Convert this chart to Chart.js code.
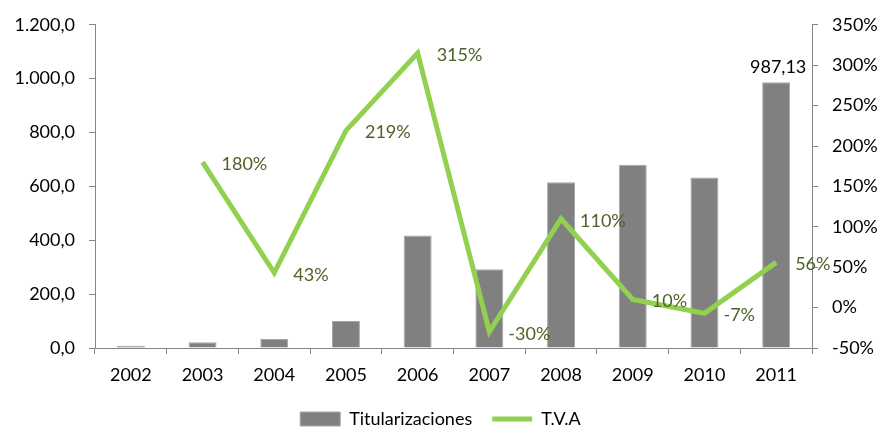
<!DOCTYPE html>
<html>
<head>
<meta charset="utf-8">
<script src="https://cdn.jsdelivr.net/npm/chart.js@4.4.1/dist/chart.umd.min.js"></script>
<style>
    html, body { margin: 0; padding: 0; background: #fff; }
    #wrap { width: 881px; height: 428px; }
</style>
</head>
<body>
<div id="wrap"><canvas id="chart"></canvas></div>
<script>
const years = ['2002', '2003', '2004', '2005', '2006', '2007', '2008', '2009', '2010', '2011'];
const titularizaciones = [8, 21, 33, 100, 418, 292, 615, 680, 633, 987.13];
const tva = [null, 180, 43, 219, 315, -30, 110, 10, -7, 56];
const barLabels = [null, null, null, null, null, null, null, null, null, '987,13'];
const leftTicks = [0, 200, 400, 600, 800, 1000, 1200];
const rightTicks = [-50, 0, 50, 100, 150, 200, 250, 300, 350];

const FONT = 'Lato, "Open Sans", sans-serif';

function formatMiles(v) {
    const s = String(Math.round(v));
    return s.replace(/\B(?=(\d{3})+(?!\d))/g, '.') + ',0';
}

// draws the value labels next to the points / above the bars
const valueLabels = {
    id: 'valueLabels',
    afterDatasetsDraw(chart) {
        const ctx = chart.ctx;
        ctx.save();
        ctx.font = '18px ' + FONT;
        const barMeta = chart.getDatasetMeta(0);
        ctx.fillStyle = '#000000';
        ctx.textAlign = 'center';
        ctx.textBaseline = 'bottom';
        barMeta.data.forEach((el, i) => {
            if (barLabels[i]) {
                ctx.fillText(barLabels[i], el.x + 2, el.y - 6);
            }
        });
        const lineMeta = chart.getDatasetMeta(1);
        ctx.fillStyle = '#4f6228';
        ctx.textAlign = 'left';
        ctx.textBaseline = 'middle';
        lineMeta.data.forEach((el, i) => {
            if (tva[i] !== null) {
                ctx.fillText(tva[i] + '%', el.x + 19, el.y + 2);
            }
        });
        ctx.restore();
    }
};

new Chart(document.getElementById('chart'), {
    type: 'bar',
    plugins: [valueLabels],
    data: {
        labels: years,
        datasets: [{
            type: 'bar',
            label: 'Titularizaciones',
            data: titularizaciones,
            backgroundColor: '#808080',
            borderColor: '#a6a6a6',
            borderWidth: 1,
            borderSkipped: 'bottom',
            categoryPercentage: 1,
            barPercentage: 0.39,
            yAxisID: 'y',
            pointStyle: 'rect',
            order: 2
        }, {
            type: 'line',
            label: 'T.V.A',
            data: tva,
            borderColor: '#92d050',
            backgroundColor: '#92d050',
            borderWidth: 5,
            tension: 0,
            pointRadius: 0,
            pointHoverRadius: 0,
            spanGaps: false,
            yAxisID: 'y1',
            pointStyle: 'line',
            order: 1
        }]
    },
    options: {
        responsive: true,
        maintainAspectRatio: false,
        animation: false,
        layout: {
            padding: { top: 19, left: 0, right: 0, bottom: -10 }
        },
        plugins: {
            tooltip: { enabled: false },
            legend: {
                position: 'bottom',
                labels: {
                    usePointStyle: true,
                    pointStyleWidth: 40,
                    boxHeight: 14,
                    padding: 20,
                    color: '#000000',
                    font: { family: FONT, size: 18 },
                    sort: (a, b) => a.datasetIndex - b.datasetIndex
                }
            }
        },
        scales: {
            x: {
                offset: true,
                grid: {
                    display: true,
                    drawOnChartArea: false,
                    drawTicks: true,
                    tickLength: 6,
                    offset: true,
                    color: '#868686'
                },
                border: { display: true, color: '#868686', width: 1 },
                ticks: {
                    color: '#000000',
                    padding: 10,
                    font: { family: FONT, size: 18 }
                },
                afterFit(scale) { scale.height = 42; }
            },
            y: {
                position: 'left',
                min: 0,
                max: 1200,
                afterBuildTicks(scale) { scale.ticks = leftTicks.map(v => ({ value: v })); },
                grid: {
                    display: true,
                    drawOnChartArea: false,
                    drawTicks: true,
                    tickLength: 6,
                    color: '#868686'
                },
                border: { display: true, color: '#868686', width: 1 },
                ticks: {
                    color: '#000000',
                    padding: 14,
                    font: { family: FONT, size: 18 },
                    callback: v => formatMiles(v)
                },
                afterFit(scale) { scale.width = 95; }
            },
            y1: {
                position: 'right',
                min: -50,
                max: 350,
                afterBuildTicks(scale) { scale.ticks = rightTicks.map(v => ({ value: v })); },
                grid: {
                    display: true,
                    drawOnChartArea: false,
                    drawTicks: true,
                    tickLength: 6,
                    color: '#868686'
                },
                border: { display: true, color: '#868686', width: 1 },
                ticks: {
                    color: '#000000',
                    padding: 14,
                    font: { family: FONT, size: 18 },
                    callback: v => v + '%'
                },
                afterFit(scale) { scale.width = 69; }
            }
        }
    }
});
</script>
</body>
</html>
